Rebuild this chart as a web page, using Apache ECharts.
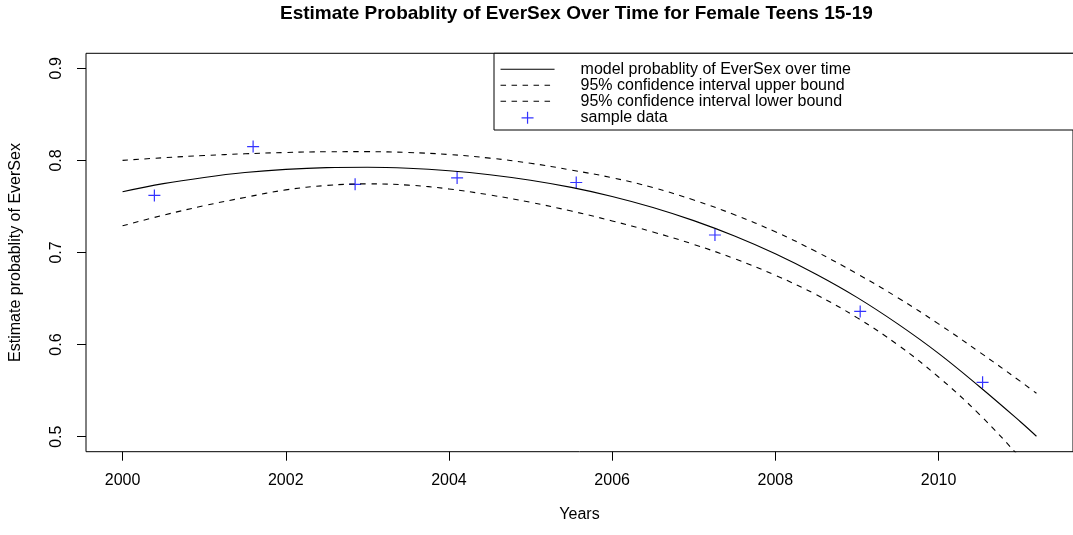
<!DOCTYPE html>
<html>
<head>
<meta charset="utf-8">
<script src="https://cdn.jsdelivr.net/npm/echarts@6/dist/echarts.min.js"></script>
<style>
html,body{margin:0;padding:0;background:#fff;}
#c{width:1073px;height:535px;}
</style>
</head>
<body>
<div id="c"></div>
<script>
// ---- data ----
const titleText = 'Estimate Probablity of EverSex Over Time for Female Teens 15-19';
const xName = 'Years';
const yName = 'Estimate probablity of EverSex';
const xTicks = [2000, 2002, 2004, 2006, 2008, 2010];
const yTicks = [0.5, 0.6, 0.7, 0.8, 0.9];

const curveYears = [2000, 2000.5, 2001, 2001.5, 2002, 2002.5, 2003, 2003.5, 2004, 2004.5,
  2005, 2005.5, 2006, 2006.5, 2007, 2007.5, 2008, 2008.5, 2009, 2009.5, 2010, 2010.5, 2011, 2011.2];
const modelProb = [0.766, 0.7748, 0.7815, 0.7868, 0.7903, 0.7922, 0.7926, 0.7915, 0.7888, 0.7845,
  0.7785, 0.7707, 0.7609, 0.7489, 0.7346, 0.7179, 0.6986, 0.6764, 0.6513, 0.6225, 0.5905, 0.5545, 0.5165, 0.5005];
const upperBound = [0.800, 0.8029, 0.8053, 0.8072, 0.8086, 0.8094, 0.8095, 0.8086, 0.8064, 0.8025,
  0.7969, 0.7895, 0.7812, 0.7705, 0.757, 0.741, 0.7225, 0.701, 0.677, 0.651, 0.6225, 0.592, 0.5603, 0.5471];
const lowerBound = [0.729, 0.7405, 0.7508, 0.7598, 0.768, 0.7728, 0.7745, 0.7732, 0.7690, 0.7625,
  0.7545, 0.745, 0.7343, 0.7223, 0.7088, 0.6933, 0.6753, 0.6543, 0.6293, 0.5998, 0.5648, 0.5243, 0.4773, 0.4565];

const sampleYears = [2000.39, 2001.6, 2002.85, 2004.1, 2005.56, 2007.26, 2009.04, 2010.54];
const sampleProb = [0.762, 0.815, 0.774, 0.781, 0.776, 0.719, 0.636, 0.559];

const seriesNames = ['model probablity of EverSex over time',
  '95% confidence interval upper bound',
  '95% confidence interval lower bound',
  'sample data'];

// ---- chart ----
const FONT = '"Liberation Sans", Arial, Helvetica, sans-serif';
const pair = (xs, ys) => xs.map((x, i) => [x, ys[i]]);
const crossPath = 'path://M0,6L12,6M6,0L6,12';
const hiddenSymbol = {color: 'transparent', borderWidth: 0, opacity: 0};

const chart = echarts.init(document.getElementById('c'), null, {renderer: 'canvas'});
chart.setOption({
  animation: false,
  backgroundColor: '#fff',
  textStyle: {fontFamily: FONT, color: '#000'},
  title: {
    text: titleText,
    left: 280, top: 4, padding: 0,
    textStyle: {fontFamily: FONT, fontSize: 19, fontWeight: 'bold', color: '#000'}
  },
  grid: {
    left: 85, top: 53.3, width: 990.7, height: 398.4,
    show: true, borderColor: '#000', borderWidth: 1, backgroundColor: 'transparent',
    containLabel: false
  },
  xAxis: {
    type: 'value', min: 1999.552, max: 2011.648,
    name: xName, nameLocation: 'middle', nameGap: 55,
    nameTextStyle: {fontFamily: FONT, fontSize: 16, color: '#000'},
    axisLine: {show: false},
    axisTick: {show: true, inside: false, length: 9, customValues: xTicks,
      lineStyle: {color: '#000', width: 1}},
    axisLabel: {show: true, customValues: xTicks, margin: 21,
      fontFamily: FONT, fontSize: 16, color: '#000', formatter: v => String(v)},
    splitLine: {show: false}
  },
  yAxis: {
    type: 'value', min: 0.4837, max: 0.9163,
    name: yName, nameLocation: 'middle', nameGap: 62, nameRotate: 90,
    nameTextStyle: {fontFamily: FONT, fontSize: 16, color: '#000'},
    axisLine: {show: false},
    axisTick: {show: true, inside: false, length: 9, customValues: yTicks,
      lineStyle: {color: '#000', width: 1}},
    axisLabel: {show: true, customValues: yTicks, margin: 21, rotate: 90,
      fontFamily: FONT, fontSize: 16, color: '#000', formatter: v => v.toFixed(1)},
    splitLine: {show: false}
  },
  graphic: [{
    type: 'rect', z: 5,
    shape: {x: 494, y: 53.3, width: 600, height: 76.7},
    style: {fill: '#fff', stroke: '#000', lineWidth: 1}
  }],
  legend: {
    z: 10,
    orient: 'vertical', left: 500, top: 61.3, padding: 0,
    itemWidth: 54, itemHeight: 12, itemGap: 0,
    selectedMode: false,
    lineStyle: {width: 1.1},
    textStyle: {fontFamily: FONT, fontSize: 16, color: '#000', lineHeight: 15.4,
      padding: [0, 0, 0, 21]},
    data: [
      {name: seriesNames[0], itemStyle: hiddenSymbol},
      {name: seriesNames[1], itemStyle: hiddenSymbol},
      {name: seriesNames[2], itemStyle: hiddenSymbol},
      {name: seriesNames[3], icon: crossPath,
        itemStyle: {color: 'none', borderColor: '#0000ff', borderWidth: 1.2}}
    ]
  },
  series: [
    {name: seriesNames[0], type: 'line', data: pair(curveYears, modelProb),
      symbol: 'none', smooth: 0.4, silent: true, clip: true,
      lineStyle: {color: '#000', width: 1.1, type: 'solid'}, itemStyle: {color: '#000'}},
    {name: seriesNames[1], type: 'line', data: pair(curveYears, upperBound),
      symbol: 'none', smooth: 0.4, silent: true, clip: true,
      lineStyle: {color: '#000', width: 1.1, type: [5.5, 5.5]}, itemStyle: {color: '#000'}},
    {name: seriesNames[2], type: 'line', data: pair(curveYears, lowerBound),
      symbol: 'none', smooth: 0.4, silent: true, clip: true,
      lineStyle: {color: '#000', width: 1.1, type: [5.5, 5.5]}, itemStyle: {color: '#000'}},
    {name: seriesNames[3], type: 'scatter', data: pair(sampleYears, sampleProb),
      symbol: crossPath, symbolSize: 12, silent: true,
      itemStyle: {color: 'none', borderColor: '#0000ff', borderWidth: 1.2}}
  ]
});
</script>
</body>
</html>
